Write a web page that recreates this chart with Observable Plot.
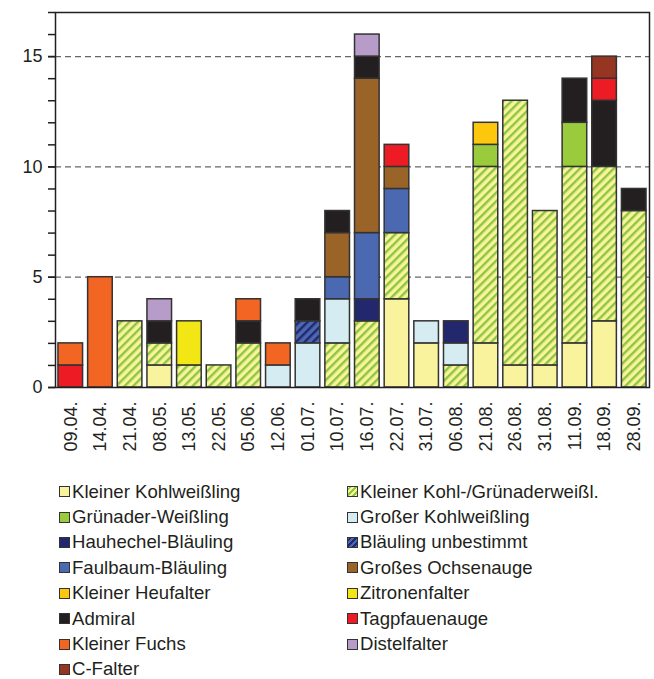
<!DOCTYPE html>
<html>
<head>
<meta charset="utf-8">
<script src="https://cdn.jsdelivr.net/npm/d3@7"></script>
<script src="https://cdn.jsdelivr.net/npm/@observablehq/plot@0.6"></script>
<style>
  body { margin: 0; background: #fff; font-family: "Liberation Sans", Arial, sans-serif; }
  #wrap { position: relative; width: 654px; }
  #legend { position: relative; width: 654px; height: 204px; }
  .item { position: absolute; display: flex; align-items: center; font-size: 18.6px; color: #231f20; height: 25.4px; white-space: nowrap; }
  .sw { width: 9px; height: 9px; border: 1.5px solid #333; margin-right: 2px; box-sizing: content-box; }
</style>
</head>
<body>
<div id="wrap"></div>
<div id="legend"></div>
<script>
const dates = ["09.04.","14.04.","21.04.","08.05.","13.05.","22.05.","05.06.","12.06.","01.07.","10.07.","16.07.","22.07.","31.07.","06.08.","21.08.","26.08.","31.08.","11.09.","18.09.","28.09."];

const species = ["Kleiner Kohlweißling","Kleiner Kohl-/Grünaderweißl.","Grünader-Weißling","Großer Kohlweißling","Hauhechel-Bläuling","Bläuling unbestimmt","Faulbaum-Bläuling","Großes Ochsenauge","Kleiner Heufalter","Zitronenfalter","Admiral","Tagpfauenauge","Kleiner Fuchs","Distelfalter","C-Falter"];

const kleinerKohlweissling = [0,0,0,1,0,0,0,0,0,0,0,4,2,0,2,1,1,2,3,0];
const kohlGruenaderweissl  = [0,0,3,1,1,1,2,0,0,2,3,3,0,1,8,12,7,8,7,8];
const gruenaderWeissling   = [0,0,0,0,0,0,0,0,0,0,0,0,0,0,1,0,0,2,0,0];
const grosserKohlweissling = [0,0,0,0,0,0,0,1,2,2,0,0,1,1,0,0,0,0,0,0];
const hauhechelBlaeuling   = [0,0,0,0,0,0,0,0,0,0,1,0,0,1,0,0,0,0,0,0];
const blaeulingUnbestimmt  = [0,0,0,0,0,0,0,0,1,0,0,0,0,0,0,0,0,0,0,0];
const faulbaumBlaeuling    = [0,0,0,0,0,0,0,0,0,1,3,2,0,0,0,0,0,0,0,0];
const grossesOchsenauge    = [0,0,0,0,0,0,0,0,0,2,7,1,0,0,0,0,0,0,0,0];
const kleinerHeufalter     = [0,0,0,0,0,0,0,0,0,0,0,0,0,0,1,0,0,0,0,0];
const zitronenfalter       = [0,0,0,0,2,0,0,0,0,0,0,0,0,0,0,0,0,0,0,0];
const admiral              = [0,0,0,1,0,0,1,0,1,1,1,0,0,0,0,0,0,2,3,1];
const tagpfauenauge        = [1,0,0,0,0,0,0,0,0,0,0,1,0,0,0,0,0,0,1,0];
const kleinerFuchs         = [1,5,0,0,0,0,1,1,0,0,0,0,0,0,0,0,0,0,0,0];
const distelfalter         = [0,0,0,1,0,0,0,0,0,0,1,0,0,0,0,0,0,0,0,0];
const cFalter              = [0,0,0,0,0,0,0,0,0,0,0,0,0,0,0,0,0,0,1,0];

const yTicks = [0, 5, 10, 15];

const series = [kleinerKohlweissling, kohlGruenaderweissl, gruenaderWeissling, grosserKohlweissling, hauhechelBlaeuling, blaeulingUnbestimmt, faulbaumBlaeuling, grossesOchsenauge, kleinerHeufalter, zitronenfalter, admiral, tagpfauenauge, kleinerFuchs, distelfalter, cFalter];

const fills = ["#f8f39c","url(#hatchGreen)","#9acb3c","#d4ecf2","#23276e","url(#hatchBlue)","#4a69b0","#9a6428","#fdc70e","#f2e614","#231f20","#ed1c24","#f26522","#b79cc9","#963521"];
const swatchCss = ["#f8f39c",
  "repeating-linear-gradient(-45deg,#f8f39c 0 2px,#8dc63f 2px 4px)",
  "#9acb3c","#d4ecf2","#23276e",
  "repeating-linear-gradient(-45deg,#4a69b0 0 2px,#23276e 2px 4px)",
  "#4a69b0","#9a6428","#fdc70e","#f2e614","#231f20","#ed1c24","#f26522","#b79cc9","#963521"];

const rows = [];
species.forEach((s, i) => dates.forEach((d, j) => { if (series[i][j] > 0) rows.push({date: d, species: s, count: series[i][j]}); }));

const chart = Plot.plot({
  width: 654, height: 475,
  marginTop: 12, marginLeft: 55, marginRight: 5, marginBottom: 88,
  style: {fontFamily: "'Liberation Sans', Arial, sans-serif", fontSize: "18px", color: "#231f20"},
  x: {domain: dates, paddingInner: 0.17, paddingOuter: 0.1, round: false, label: null},
  y: {domain: [0, 17], label: null},
  color: {domain: species, range: fills},
  marks: [
    Plot.ruleY([5, 10, 15], {stroke: "#666", strokeDasharray: "6,4", strokeWidth: 1.2}),
    Plot.barY(rows, {x: "date", y: "count", fill: "species", stroke: "#333", strokeWidth: 1.5, insetLeft: 0, insetRight: 0}),
    Plot.axisY({ticks: d3.range(0, 18), tickSize: 7, tickFormat: () => "", strokeWidth: 1.5}),
    Plot.axisY({ticks: yTicks, tickSize: 7, tickPadding: 6, fontSize: 18, strokeWidth: 1.5}),
    Plot.axisX({tickSize: 0, tickRotate: -90, tickPadding: 14, fontSize: 18}),
    Plot.frame({stroke: "#231f20", strokeWidth: 1.5})
  ]
});

// hatch patterns
const svg = d3.select(chart);
const defs = svg.insert("defs", ":first-child");
function hatch(id, bg, fg) {
  const p = defs.append("pattern").attr("id", id).attr("patternUnits", "userSpaceOnUse")
    .attr("width", 6).attr("height", 6).attr("patternTransform", "rotate(45)");
  p.append("rect").attr("width", 6).attr("height", 6).attr("fill", bg);
  p.append("rect").attr("width", 2.4).attr("height", 6).attr("fill", fg);
}
hatch("hatchGreen", "#f8f39c", "#8dc63f");
hatch("hatchBlue", "#4a69b0", "#23276e");
document.getElementById("wrap").appendChild(chart);

// legend
const legend = document.getElementById("legend");
species.forEach((s, i) => {
  const col = i % 2, row = Math.floor(i / 2);
  const el = document.createElement("div");
  el.className = "item";
  el.style.left = (col ? 347 : 59) + "px";
  el.style.top = (4 + row * 25.4) + "px";
  const sw = document.createElement("div");
  sw.className = "sw";
  sw.style.background = swatchCss[i];
  const t = document.createElement("span");
  t.textContent = s;
  el.appendChild(sw); el.appendChild(t);
  legend.appendChild(el);
});
</script>
</body>
</html>
